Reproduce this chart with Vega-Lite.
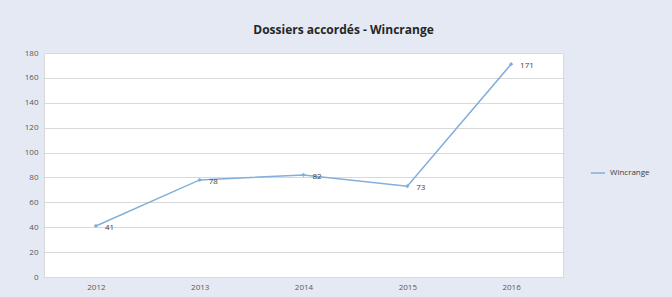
{
  "$schema": "https://vega.github.io/schema/vega-lite/v6.json",
  "autosize": {"type": "none"},
  "width": 519,
  "height": 224,
  "padding": {"left": 44, "top": 53, "right": 109, "bottom": 20},
  "background": "#e4e9f4",
  "title": {
    "text": "Dossiers accordés - Wincrange",
    "font": "Open Sans",
    "fontSize": 12,
    "fontWeight": "bold",
    "color": "#262626",
    "anchor": "middle",
    "dx": 40,
    "offset": 12
  },
  "data": {
    "values": [
      {"annee": "2012", "dossiers": 41, "serie": "Wincrange"},
      {"annee": "2013", "dossiers": 78, "serie": "Wincrange"},
      {"annee": "2014", "dossiers": 82, "serie": "Wincrange"},
      {"annee": "2015", "dossiers": 73, "serie": "Wincrange"},
      {"annee": "2016", "dossiers": 171, "serie": "Wincrange"}
    ]
  },
  "encoding": {
    "x": {
      "field": "annee",
      "type": "ordinal",
      "axis": {
        "title": null,
        "labelAngle": 0,
        "labelFont": "Open Sans",
        "labelFontSize": 8,
        "labelColor": "#595959",
        "ticks": false,
        "domain": false,
        "labelPadding": 6
      }
    },
    "y": {
      "field": "dossiers",
      "type": "quantitative",
      "scale": {"domain": [0, 180], "nice": false},
      "axis": {
        "title": null,
        "values": [0, 20, 40, 60, 80, 100, 120, 140, 160, 180],
        "labelFont": "Open Sans",
        "labelFontSize": 8,
        "labelColor": "#595959",
        "ticks": false,
        "domain": false,
        "gridColor": "#d9d9d9",
        "gridWidth": 1,
        "labelPadding": 6
      }
    }
  },
  "layer": [
    {
      "mark": {"type": "line", "strokeWidth": 1.5, "point": {"shape": "diamond", "size": 18, "filled": true}},
      "encoding": {
        "color": {
          "field": "serie",
          "type": "nominal",
          "scale": {"range": ["#82afdc"]},
          "legend": {
            "title": null,
            "orient": "none",
            "legendX": 546,
            "legendY": 112,
            "symbolType": "stroke",
            "symbolSize": 200,
            "symbolStrokeWidth": 1.5,
            "labelFont": "Open Sans",
            "labelFontSize": 8,
            "labelColor": "#404040"
          }
        }
      }
    },
    {
      "mark": {"type": "text", "align": "left", "dx": 9, "dy": 2, "font": "Open Sans", "fontSize": 8, "color": "#404040"},
      "encoding": {"text": {"field": "dossiers", "type": "quantitative"}}
    }
  ],
  "config": {
    "view": {"fill": "white", "stroke": "#d9d9d9"}
  }
}
